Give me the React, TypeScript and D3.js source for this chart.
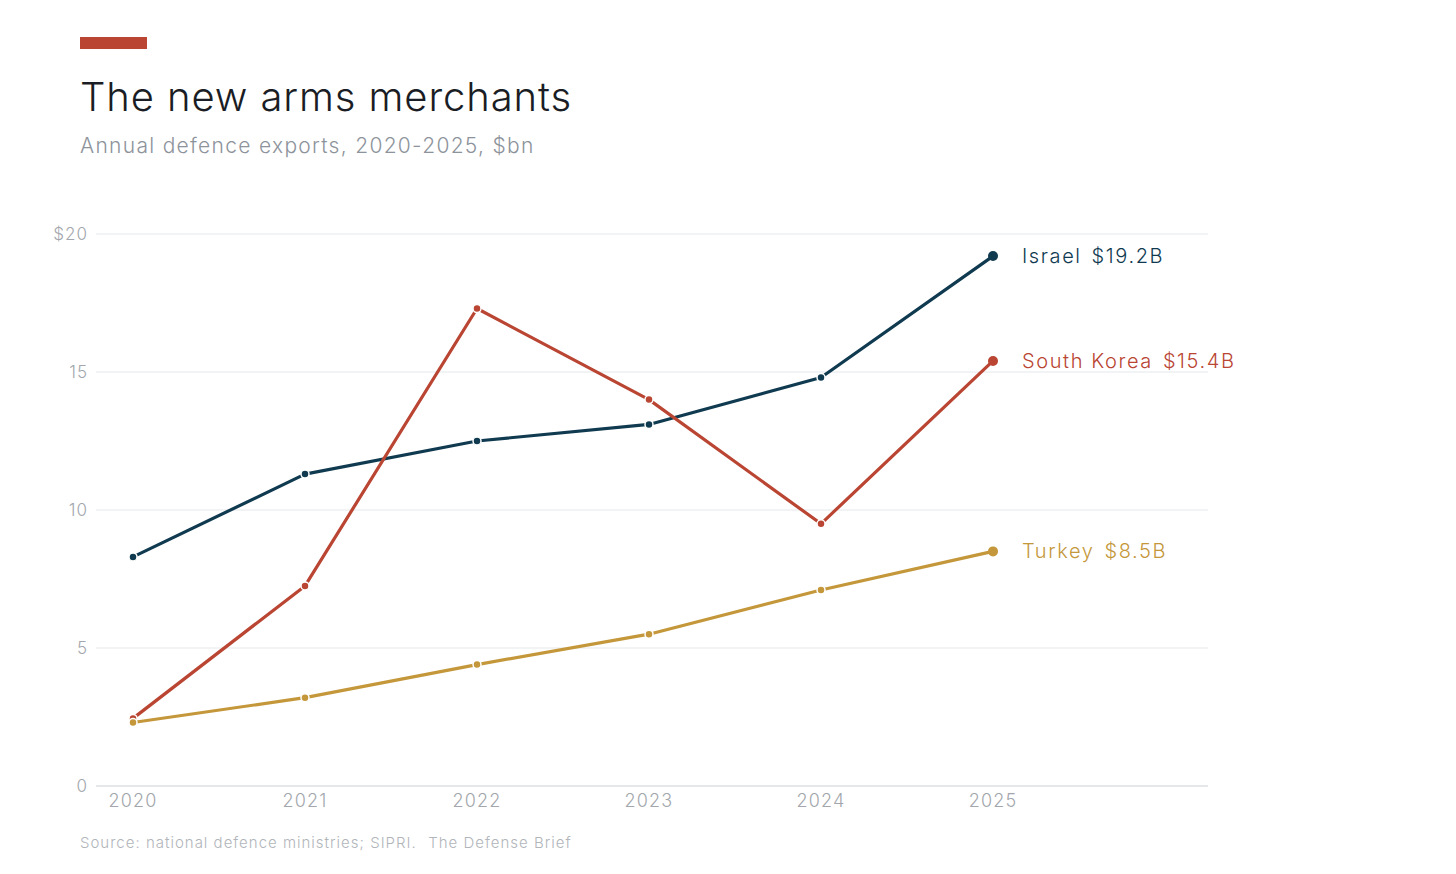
import React from "react";
import * as d3 from "d3";

const years = [2020, 2021, 2022, 2023, 2024, 2025];
const israel = [8.3, 11.3, 12.5, 13.1, 14.8, 19.2];
const southKorea = [2.45, 7.25, 17.3, 14.0, 9.5, 15.4];
const turkey = [2.3, 3.2, 4.4, 5.5, 7.1, 8.5];
const seriesNames = ["Israel", "South Korea", "Turkey"];
const endLabels = ["$19.2B", "$15.4B", "$8.5B"];
const seriesColors = ["#0f3a50", "#b94532", "#c4973a"];
const yTicks = [0, 5, 10, 15, 20];

const W = 1456;
const H = 874;
const FONT = "Inter, 'Open Sans', sans-serif";

export default function App() {
  const x = d3.scaleLinear().domain([2020, 2025]).range([133, 993]);
  const y = d3.scaleLinear().domain([0, 20]).range([786, 234]);
  const line = d3
    .line<number>()
    .x((_, i) => x(years[i]))
    .y((d) => y(d));

  const allSeries = [israel, southKorea, turkey];

  return (
    <svg width={W} height={H} style={{ display: "block", margin: -8, background: "#fff" }}>
      <rect x={80} y={37} width={67} height={12} fill="#b94532" />
      <text x={80} y={111} fontFamily={FONT} fontSize={40} fontWeight={300} fill="#1a1d24" letterSpacing={0.9}>
        The new arms merchants
      </text>
      <text x={80} y={153} fontFamily={FONT} fontSize={21} fontWeight={300} fill="#8d939b" letterSpacing={1.3}>
        Annual defence exports, 2020-2025, $bn
      </text>

      {/* gridlines */}
      {yTicks.map((t) => (
        <g key={t}>
          <line x1={96} x2={1208} y1={y(t)} y2={y(t)} stroke={t === 0 ? "#dcdfe2" : "#e6e8ea"} strokeWidth={t === 0 ? 1.5 : 1.2} />
          <text x={88} y={y(t)} dy="0.35em" textAnchor="end" fontFamily={FONT} fontSize={17} fontWeight={300} fill="#a3a7ad" letterSpacing={1}>
            {t === 20 ? "$20" : t}
          </text>
        </g>
      ))}

      {years.map((yr) => (
        <text key={yr} x={x(yr)} y={807} textAnchor="middle" fontFamily={FONT} fontSize={18} fontWeight={300} fill="#a3a7ad" letterSpacing={1.2}>
          {yr}
        </text>
      ))}

      {/* series */}
      {allSeries.map((vals, si) => (
        <g key={seriesNames[si]}>
          <path d={line(vals) || ""} fill="none" stroke={seriesColors[si]} strokeWidth={3.2} strokeLinejoin="round" />
          {vals.map((v, i) =>
            i === vals.length - 1 ? (
              <circle key={i} cx={x(years[i])} cy={y(v)} r={5} fill={seriesColors[si]} />
            ) : (
              <circle key={i} cx={x(years[i])} cy={y(v)} r={4} fill={seriesColors[si]} stroke="#fff" strokeWidth={1.5} />
            )
          )}
          <text x={1022} y={y(vals[vals.length - 1])} dy="0.35em" fontFamily={FONT} fontSize={20} fontWeight={300} fill={seriesColors[si]} letterSpacing={1.6}>
            {seriesNames[si]}
            <tspan dx={10}>{endLabels[si]}</tspan>
          </text>
        </g>
      ))}

      <text x={80} y={848} fontFamily={FONT} fontSize={15} fontWeight={300} fill="#b1b5ba" letterSpacing={1}>
        Source: national defence ministries; SIPRI.
        <tspan dx={12}>The Defense Brief</tspan>
      </text>
    </svg>
  );
}
